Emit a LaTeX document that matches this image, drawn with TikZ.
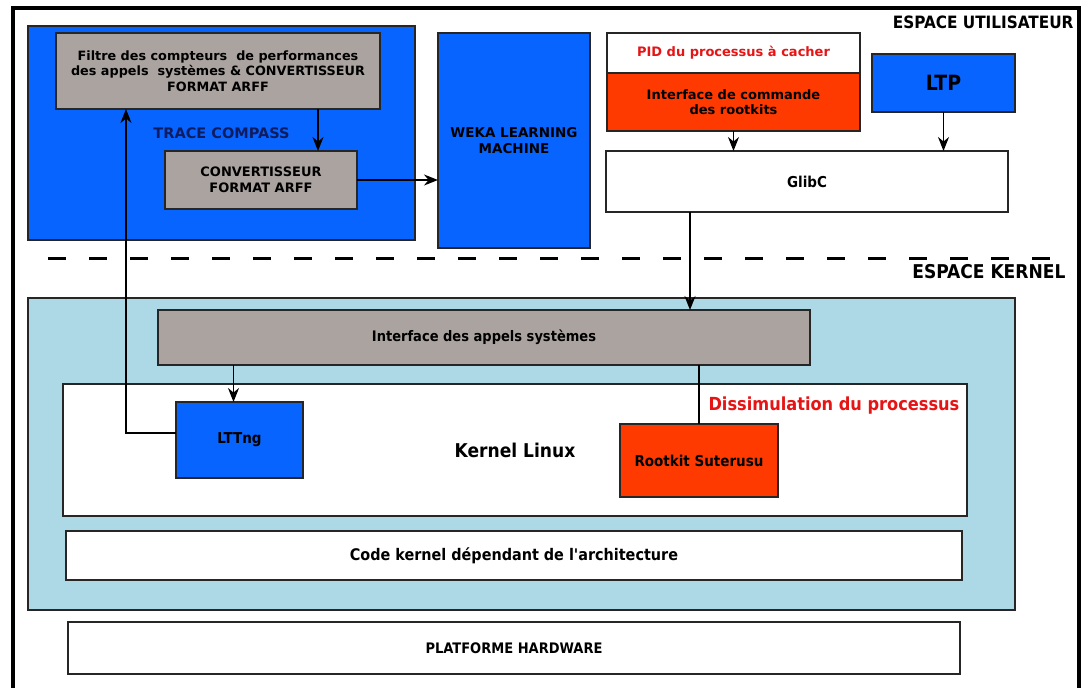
\documentclass[tikz,border=0pt]{standalone}
\usepackage{fontspec}
\setmainfont{DejaVu Sans}
\newfontfamily\condfont{DejaVu Sans Condensed}
\usetikzlibrary{arrows.meta}
\definecolor{ublue}{RGB}{8,100,255}
\definecolor{rkred}{RGB}{255,58,0}
\definecolor{boxgrey}{RGB}{170,163,160}
\definecolor{kblue}{RGB}{173,216,230}
\definecolor{navy}{RGB}{15,28,95}
\definecolor{txtred}{RGB}{230,20,20}
\newcommand\fsz[1]{\fontsize{#1}{1.2\dimexpr#1pt\relax}\selectfont}
\begin{document}
\begin{tikzpicture}[x=1pt,y=-1pt,
  box/.style={rectangle, draw=black!85, line width=1.8pt, inner sep=0pt, outer sep=0pt, align=center, font=\bfseries\fsz{13}},
  kbox/.style={box, font=\condfont\bfseries\fsz{15}},
  arr/.style={-{Stealth[length=14pt,width=11pt]}, line width=1.5pt},
  plain/.style={line width=1.5pt}
]
\useasboundingbox (0,0) rectangle (1082,688);
\draw[line width=4pt] (13,8) rectangle (1079,694);

% espace utilisateur
\node[box, fill=ublue, minimum width=387pt, minimum height=214pt, text=navy, font=\bfseries\fsz{14.5}] (trace) at (221.5,133) {TRACE COMPASS};
\node[box, fill=boxgrey, minimum width=324pt, minimum height=76pt, font=\bfseries\fsz{12.8}] (filtre) at (218,71)
  {Filtre des compteurs\ \ de performances\\des appels\ \ systèmes \& CONVERTISSEUR\\FORMAT ARFF};
\node[box, fill=boxgrey, minimum width=192pt, minimum height=58pt] (conv) at (261,180) {CONVERTISSEUR\\FORMAT ARFF};
\node[box, fill=ublue, minimum width=152pt, minimum height=215pt, font=\bfseries\fsz{13.5}] (weka) at (514,140.5) {WEKA LEARNING\\MACHINE};
\node[box, fill=white, minimum width=253pt, minimum height=40pt, text=txtred] (pid) at (733.5,53) {PID du processus à cacher};
\node[box, fill=rkred, minimum width=253pt, minimum height=58pt] (cmd) at (733.5,102) {Interface de commande\\des rootkits};
\node[box, fill=ublue, minimum width=143pt, minimum height=58pt, font=\condfont\bfseries\fsz{21}] (ltp) at (943.5,83) {LTP};
\node[box, fill=white, minimum width=402pt, minimum height=61pt, font=\condfont\bfseries\fsz{15}] (glibc) at (807,181.5) {GlibC};
\node[anchor=east, font=\condfont\bfseries\fsz{17}] (user) at (1077,22) {ESPACE UTILISATEUR};

% separation
\coordinate (sepA) at (48,258);
\coordinate (sepB) at (1062,258);
\draw[line width=3pt, dash pattern=on 18pt off 23pt] (sepA) -- (sepB);

% espace kernel
\node[anchor=east, font=\condfont\bfseries\fsz{19}] (kern) at (1069,272) {ESPACE KERNEL};
\node[box, fill=kblue, minimum width=987pt, minimum height=312pt] (kernel) at (521.5,454) {};
\node[kbox, fill=boxgrey, minimum width=652pt, minimum height=55pt, font=\condfont\bfseries\fsz{14.5}] (appels) at (484,337.5) {Interface des appels systèmes};
\node[kbox, fill=white, minimum width=904pt, minimum height=132pt, font=\condfont\bfseries\fsz{19}] (linux) at (515,450) {Kernel Linux};
\node[kbox, fill=ublue, minimum width=127pt, minimum height=76pt] (lttng) at (239.5,440) {LTTng};
\node[kbox, fill=rkred, minimum width=158pt, minimum height=73pt] (rootkit) at (699,460.5) {Rootkit Suterusu};
\node[anchor=west, text=txtred, font=\condfont\bfseries\fsz{18}] (dissim) at (705,406) {Dissimulation du processus};
\node[kbox, fill=white, minimum width=896pt, minimum height=49pt, font=\condfont\bfseries\fsz{16}] (code) at (514,555.5) {Code kernel dépendant de l'architecture};
\node[kbox, fill=white, minimum width=892pt, minimum height=52pt, font=\condfont\bfseries\fsz{14.5}] (hw) at (514,648) {PLATFORME HARDWARE};

% connexions
\draw[arr] ([xshift=100pt]filtre.south) -- ([xshift=57pt]conv.north);
\draw[arr] (conv.east) -- (conv.east -| weka.west);
\draw[arr] (cmd.south) -- (cmd.south |- glibc.north);
\draw[arr] (ltp.south) -- (ltp.south |- glibc.north);
\draw[arr] ([xshift=-117pt]glibc.south) -- ([xshift=-117pt]glibc.south |- appels.north);
\draw[plain] (rootkit.north |- appels.south) -- (rootkit.north);
\draw[arr] ([xshift=-6pt]lttng.north |- appels.south) -- ([xshift=-6pt]lttng.north);
\draw[arr] ([yshift=7pt]lttng.west) -| ([xshift=-92pt]filtre.south);
\end{tikzpicture}
\end{document}
